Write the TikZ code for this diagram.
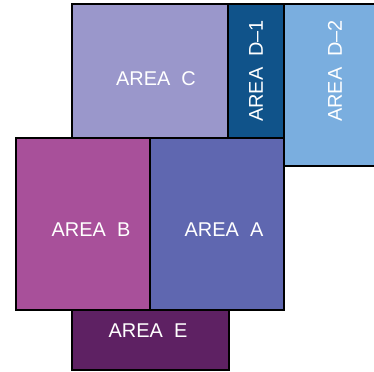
\documentclass[tikz,border=0pt]{standalone}
\usepackage{fontspec}
\setmainfont{Liberation Sans}
\usepackage{tikz}

\definecolor{areaA}{HTML}{5F67B0}
\definecolor{areaB}{HTML}{A8509A}
\definecolor{areaC}{HTML}{9A97CB}
\definecolor{areaDa}{HTML}{10538A}
\definecolor{areaDb}{HTML}{7AAEDF}
\definecolor{areaE}{HTML}{5E2163}

\tikzset{
  room/.style={draw=black,line width=1.4bp},
  tag/.style={text=white,inner sep=0pt,font=\fontsize{20}{20}\selectfont}
}

\begin{document}
\begin{tikzpicture}[x=1bp,y=-1bp]
        \useasboundingbox (0,0) rectangle (374,372);
        \filldraw [room,fill=areaDb] (284,4) rectangle (390,166);
        \filldraw [room,fill=areaC] (72,4) rectangle (228,138);
        \filldraw [room,fill=areaDa] (228,4) rectangle (284,138);
        \filldraw [room,fill=areaB] (16,138) rectangle (150,310);
        \filldraw [room,fill=areaA] (150,138) rectangle (284,310);
        \filldraw [room,fill=areaE] (72,310) rectangle (229,370);
        \node [tag] (labC) at (156,79) {AREA\ \ C};
        \node [tag,rotate=90] (labDa) at (256,71) {AREA\ \ D--1};
        \node [tag,rotate=90] (labDb) at (335,71) {AREA\ \ D--2};
        \node [tag] (labB) at (91,230) {AREA\ \ B};
        \node [tag] (labA) at (224,230) {AREA\ \ A};
        \node [tag] (labE) at (148,331) {AREA\ \ E};
    \end{tikzpicture}
\end{document}
